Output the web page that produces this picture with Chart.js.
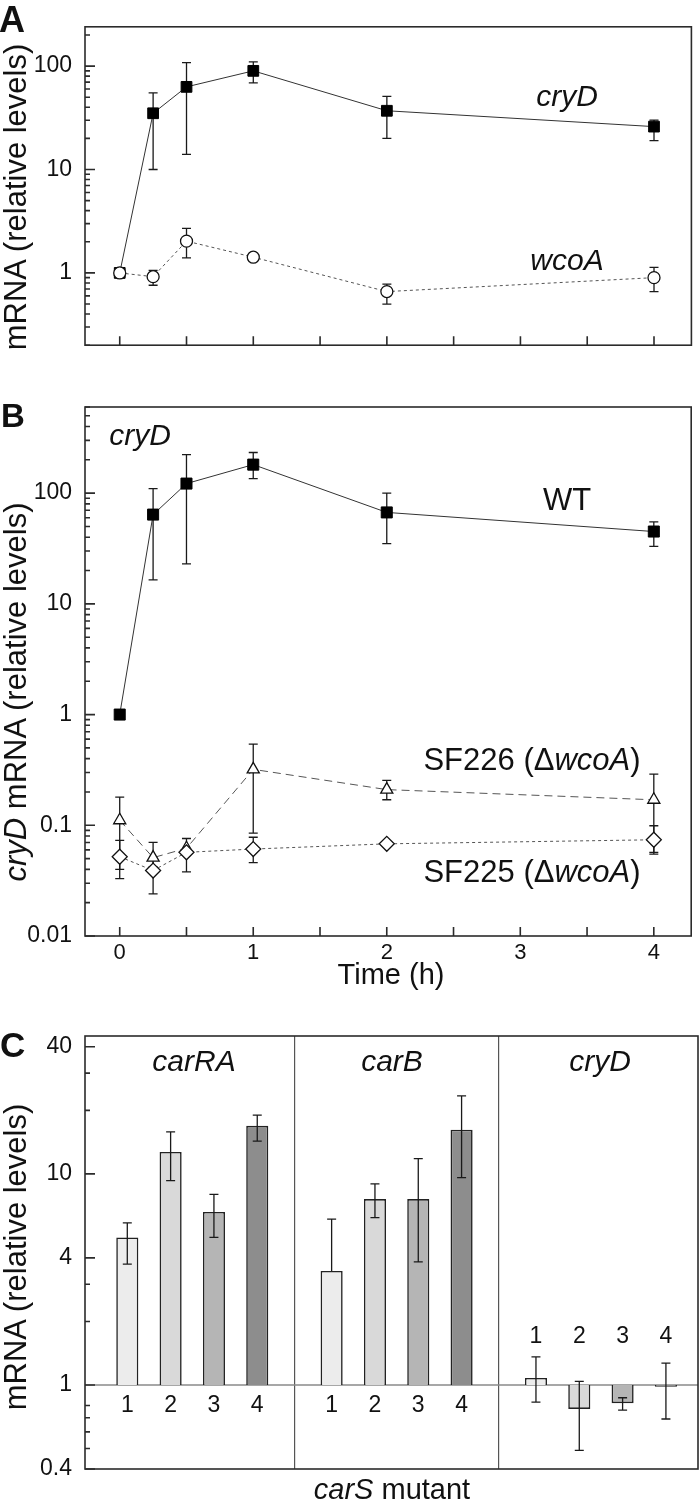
<!DOCTYPE html>
<html><head><meta charset="utf-8">
<script src="https://cdn.jsdelivr.net/npm/chart.js@4.4.1/dist/chart.umd.min.js"></script>
<style>
body{margin:0;background:#fff;}
#wrap{position:relative;width:700px;height:1504px;overflow:hidden;font-family:"Liberation Sans",Arial,sans-serif;color:#111;}
canvas{position:absolute;left:0;}
.t{position:absolute;white-space:nowrap;line-height:1;}
</style></head><body>
<div id="wrap">
<canvas id="cA" width="700" height="372" style="top:0px"></canvas>
<canvas id="cB" width="700" height="620" style="top:380px"></canvas>
<canvas id="cC" width="700" height="504" style="top:1000px"></canvas>
</div>
<script>
// ---------- Panel A data ----------
const timeA = [0, 0.25, 0.5, 1, 2, 4];
const cryDA = [1, 35, 63, 90, 37, 26];
const cryDA_hi = [null, 55, 108, 110, 51, 30];
const cryDA_lo = [null, 10, 14, 69, 20, 19];
const wcoAA = [1, 0.92, 2.03, 1.42, 0.66, 0.9];
const wcoAA_hi = [null, 1.06, 2.7, null, 0.78, 1.13];
const wcoAA_lo = [null, 0.76, 1.4, null, 0.5, 0.66];
const yTicksA = [1, 10, 100];
const yTickLabelsA = ['1', '10', '100'];

// ---------- Panel B data ----------
const timeB = [0, 0.25, 0.5, 1, 2, 4];
const wtB = [1, 64, 122, 181, 67, 45];
const wtB_hi = [null, 110, 223, 233, 100, 55];
const wtB_lo = [null, 16.5, 23, 135, 35, 33];
const sf226B = [0.111, 0.051, 0.062, 0.32, 0.21, 0.17];
const sf226B_hi = [0.18, 0.07, null, 0.54, 0.255, 0.29];
const sf226B_lo = [0.04, 0.042, null, 0.085, 0.17, 0.055];
const sf225B = [0.052, 0.039, 0.057, 0.061, 0.068, 0.074];
const sf225B_hi = [0.073, 0.05, 0.076, 0.078, null, 0.099];
const sf225B_lo = [0.033, 0.024, 0.038, 0.046, null, 0.057];
const yTicksB = [0.01, 0.1, 1, 10, 100];
const yTickLabelsB = ['0.01', '0.1', '1', '10', '100'];
const xTicksB = [0, 1, 2, 3, 4];
const xTickLabelsB = ['0', '1', '2', '3', '4'];
const xMinorTicks = [0, 0.5, 1, 1.5, 2, 2.5, 3, 3.5, 4];

// ---------- Panel C data ----------
const groupsC = ['carRA', 'carB', 'cryD'];
const mutantsC = ['1', '2', '3', '4'];
const carRAC = [5.0, 12.7, 6.6, 16.9];
const carRAC_hi = [5.86, 15.8, 8.0, 19.0];
const carRAC_lo = [3.74, 9.3, 5.0, 14.3];
const carBC = [3.47, 7.6, 7.6, 16.2];
const carBC_hi = [6.1, 8.97, 11.8, 23.4];
const carBC_lo = [null, 6.2, 3.83, 9.6];
const cryDC = [1.08, 0.77, 0.82, 0.98];
const cryDC_hi = [1.36, 1.04, 0.87, 1.27];
const cryDC_lo = [0.83, 0.49, 0.76, 0.69];
const yTicksC = [0.4, 1, 4, 10, 40];
const yTickLabelsC = ['0.4', '1', '4', '10', '40'];
const yMinorC = [0.5, 0.6, 0.7, 0.8, 2, 3, 20, 30];

// minor log ticks 2..9 per decade
function logMinors(lo, hi) {
  const out = [];
  for (let e = -3; e <= 3; e++) {
    for (let k = 2; k <= 9; k++) {
      const v = k * Math.pow(10, e);
      if (v >= lo && v <= hi) out.push(+v.toPrecision(3));
    }
  }
  return out;
}

const FONT = '"Liberation Sans", Arial, sans-serif';

function drawErr(chart, list) {
  const ctx = chart.ctx, ys = chart.scales.y;
  ctx.save();
  ctx.strokeStyle = '#1a1a1a'; ctx.lineWidth = 1.3; ctx.setLineDash([]);
  list.forEach(e => {
    const meta = chart.getDatasetMeta(e.ds);
    e.val.forEach((v, i) => {
      const h = e.hi[i], l = e.lo[i];
      if (h == null && l == null) return;
      const x = meta.data[i].x;
      const y1 = ys.getPixelForValue(h == null ? v : h);
      const y2 = ys.getPixelForValue(l == null ? v : l);
      ctx.beginPath();
      ctx.moveTo(x, y1); ctx.lineTo(x, y2);
      if (h != null) { ctx.moveTo(x - 4.5, y1); ctx.lineTo(x + 4.5, y1); }
      if (l != null) { ctx.moveTo(x - 4.5, y2); ctx.lineTo(x + 4.5, y2); }
      ctx.stroke();
    });
  });
  ctx.restore();
}

function framePlugin(id, cfg) {
  return {
    id: id,
    beforeDatasetsDraw(chart) {
      const ctx = chart.ctx, ca = chart.chartArea, ys = chart.scales.y;
      if (cfg.refLine != null) {
        const p = ys.getPixelForValue(cfg.refLine);
        ctx.save(); ctx.strokeStyle = '#8a8a8a'; ctx.lineWidth = 1.3;
        ctx.beginPath(); ctx.moveTo(ca.left, p); ctx.lineTo(ca.right, p); ctx.stroke();
        ctx.restore();
      }
      if (cfg.errLayer === 'before') drawErr(chart, cfg.err);
    },
    afterDatasetsDraw(chart) {
      if (cfg.errLayer === 'after') drawErr(chart, cfg.err);
      if (cfg.after) cfg.after(chart);
    },
    afterDraw(chart) {
      const ctx = chart.ctx, ca = chart.chartArea, ys = chart.scales.y, xs = chart.scales.x;
      ctx.save();
      ctx.strokeStyle = '#2b2b2b'; ctx.lineWidth = 1.6; ctx.setLineDash([]);
      ctx.strokeRect(ca.left, ca.top, ca.right - ca.left, ca.bottom - ca.top);
      ctx.beginPath();
      cfg.yMajor.forEach(v => { const p = ys.getPixelForValue(v); ctx.moveTo(ca.left, p); ctx.lineTo(ca.left + 10, p); });
      cfg.yMinor.forEach(v => { const p = ys.getPixelForValue(v); ctx.moveTo(ca.left, p); ctx.lineTo(ca.left + 5, p); });
      (cfg.xTicks || []).forEach(v => { const p = xs.getPixelForValue(v); ctx.moveTo(p, ca.bottom); ctx.lineTo(p, ca.bottom - 9); });
      ctx.stroke();
      ctx.restore();
    }
  };
}

function yScale(min, max, ticks, labels) {
  return {
    type: 'logarithmic', min: min, max: max,
    afterFit(s) { s.width = 85; },
    afterBuildTicks(s) { s.ticks = ticks.map(v => ({ value: v })); },
    ticks: {
      autoSkip: false, padding: 13, color: '#111',
      font: { size: 23, family: FONT },
      callback: (v) => { const i = ticks.indexOf(v); return i >= 0 ? labels[i] : ''; }
    },
    grid: { display: false, drawTicks: false },
    border: { display: false }
  };
}

function pts(xs, ys) { return xs.map((x, i) => ({ x: x, y: ys[i] })); }

const common = {
  responsive: false, animation: false, devicePixelRatio: 1, events: [],
  plugins: { legend: { display: false }, tooltip: { enabled: false } }
};

// ---------- Chart A ----------
new Chart(document.getElementById('cA'), {
  type: 'line',
  data: {
    datasets: [
      { data: pts(timeA, wcoAA), borderColor: '#555', borderWidth: 1, borderDash: [3, 3],
        pointStyle: 'circle', pointRadius: 6, pointBackgroundColor: '#fff', pointBorderColor: '#111', pointBorderWidth: 1.3, tension: 0 },
      { data: pts(timeA, cryDA), borderColor: '#333', borderWidth: 1,
        pointStyle: 'rect', pointRadius: 7.6, pointBackgroundColor: '#000', pointBorderColor: '#000', pointBorderWidth: 1, tension: 0 }
    ]
  },
  options: Object.assign({}, common, {
    layout: { padding: { top: 16, right: 3, left: 0, bottom: 0 } },
    scales: {
      x: { type: 'linear', min: -0.26, max: 4.28, afterFit(s) { s.height = 16; },
        ticks: { display: false }, grid: { display: false, drawTicks: false }, border: { display: false } },
      y: yScale(0.2, 240, yTicksA, yTickLabelsA)
    }
  }),
  plugins: [framePlugin('frameA', {
    errLayer: 'before', yMajor: yTicksA, yMinor: logMinors(0.2, 240), xTicks: xMinorTicks,
    err: [{ ds: 0, val: wcoAA, hi: wcoAA_hi, lo: wcoAA_lo }, { ds: 1, val: cryDA, hi: cryDA_hi, lo: cryDA_lo }]
  })]
});

// ---------- Chart B ----------
new Chart(document.getElementById('cB'), {
  type: 'line',
  data: {
    datasets: [
      { data: pts(timeB, sf225B), borderColor: '#555', borderWidth: 1, borderDash: [3, 3],
        pointStyle: 'rectRot', pointRadius: 7.5, pointBackgroundColor: '#fff', pointBorderColor: '#111', pointBorderWidth: 1.3, tension: 0 },
      { data: pts(timeB, sf226B), borderColor: '#555', borderWidth: 1, borderDash: [8, 5],
        pointStyle: 'triangle', pointRadius: 7, pointBackgroundColor: '#fff', pointBorderColor: '#111', pointBorderWidth: 1.3, tension: 0 },
      { data: pts(timeB, wtB), borderColor: '#333', borderWidth: 1,
        pointStyle: 'rect', pointRadius: 7.8, pointBackgroundColor: '#000', pointBorderColor: '#000', pointBorderWidth: 1, tension: 0 }
    ]
  },
  options: Object.assign({}, common, {
    layout: { padding: { top: 27, right: 3, left: 0, bottom: 0 } },
    scales: {
      x: { type: 'linear', min: -0.26, max: 4.28, afterFit(s) { s.height = 64; },
        afterBuildTicks(s) { s.ticks = xTicksB.map(v => ({ value: v })); },
        ticks: { autoSkip: false, padding: 4, color: '#111', maxRotation: 0, font: { size: 22, family: FONT },
          callback: (v) => { const i = xTicksB.indexOf(v); return i >= 0 ? xTickLabelsB[i] : ''; } },
        grid: { display: false, drawTicks: false }, border: { display: false } },
      y: yScale(0.01, 600, yTicksB, yTickLabelsB)
    }
  }),
  plugins: [framePlugin('frameB', {
    errLayer: 'before', yMajor: yTicksB, yMinor: logMinors(0.01, 600), xTicks: xMinorTicks,
    err: [{ ds: 0, val: sf225B, hi: sf225B_hi, lo: sf225B_lo },
          { ds: 1, val: sf226B, hi: sf226B_hi, lo: sf226B_lo },
          { ds: 2, val: wtB, hi: wtB_hi, lo: wtB_lo }]
  })]
});

// ---------- Chart C ----------
const byGroup = [carRAC, carBC, cryDC];
const byGroupHi = [carRAC_hi, carBC_hi, cryDC_hi];
const byGroupLo = [carRAC_lo, carBC_lo, cryDC_lo];
const barColors = ['#ececec', '#d9d9d9', '#b5b5b5', '#8d8d8d'];
const numbersAbove = [false, false, true];

const datasetsC = mutantsC.map((m, mi) => ({
  label: m,
  data: groupsC.map((g, gi) => ({ x: gi, y: byGroup[gi][mi] })),
  base: 1,
  backgroundColor: barColors[mi], borderColor: '#222', borderWidth: 1.6,
  categoryPercentage: 0.848, barPercentage: 0.51
}));
const errC = mutantsC.map((m, mi) => ({
  ds: mi, val: byGroup.map(g => g[mi]), hi: byGroupHi.map(g => g[mi]), lo: byGroupLo.map(g => g[mi])
}));

new Chart(document.getElementById('cC'), {
  type: 'bar',
  data: { datasets: datasetsC },
  options: Object.assign({}, common, {
    layout: { padding: { top: 36, right: 2, left: 0, bottom: 0 } },
    scales: {
      x: { type: 'linear', min: -0.525, max: 2.475, offset: false, afterFit(s) { s.height = 35; },
        afterBuildTicks(s) { s.ticks = [0.5, 1.5].map(v => ({ value: v })); },
        ticks: { display: false },
        grid: { display: true, offset: false, color: '#555', lineWidth: 1.2, drawTicks: false },
        border: { display: false } },
      y: yScale(0.4, 45, yTicksC, yTickLabelsC)
    }
  }),
  plugins: [framePlugin('frameC', {
    refLine: 1, errLayer: 'after', yMajor: yTicksC, yMinor: yMinorC, err: errC,
    after(chart) {
      const ctx = chart.ctx, ys = chart.scales.y, base = ys.getPixelForValue(1);
      ctx.save();
      ctx.font = '23px ' + FONT; ctx.fillStyle = '#111'; ctx.textAlign = 'center'; ctx.textBaseline = 'alphabetic';
      mutantsC.forEach((lab, mi) => {
        const meta = chart.getDatasetMeta(mi);
        groupsC.forEach((g, gi) => {
          const x = meta.data[gi].x;
          ctx.fillText(lab, x, numbersAbove[gi] ? base - 42 : base + 27);
        });
      });
      ctx.restore();
    }
  })]
});

// ---------- HTML text labels ----------
const wrap = document.getElementById('wrap');
function addText(html, x, baseline, size, o) {
  o = o || {};
  const d = document.createElement('div');
  d.className = 't';
  d.innerHTML = html;
  d.style.fontSize = size + 'px';
  if (o.bold) d.style.fontWeight = 'bold';
  if (o.italic) d.style.fontStyle = 'italic';
  if (o.rot) {
    const cx = x - 0.3465 * size;
    d.style.left = cx + 'px';
    d.style.top = baseline + 'px';
    d.style.transform = 'translate(-50%,-50%) rotate(-90deg)';
  } else {
    d.style.top = (baseline - 0.8465 * size) + 'px';
    d.style.left = x + 'px';
    if (o.align !== 'left') d.style.transform = 'translateX(-50%)';
  }
  wrap.appendChild(d);
}
addText('A', -1, 32, 36, { bold: true, align: 'left' });
addText('B', 1, 427, 33, { bold: true, align: 'left' });
addText('C', 0, 1057, 35, { bold: true, align: 'left' });

addText('mRNA (relative levels)', 26, 197, 31, { rot: true });
addText('<i>cryD</i> mRNA (relative levels)', 26, 692, 31, { rot: true });
addText('mRNA (relative levels)', 26, 1257, 31, { rot: true });

addText('cryD', 567, 106, 30, { italic: true });
addText('wcoA', 567, 270, 30, { italic: true });
addText('cryD', 140, 445, 30, { italic: true });
addText('WT', 567, 510, 31);
addText('SF226 (Δ<i>wcoA</i>)', 532, 770, 31);
addText('SF225 (Δ<i>wcoA</i>)', 532, 882, 31);
addText('Time (h)', 391, 985, 29);

addText('carRA', 194, 1071, 30, { italic: true });
addText('carB', 392, 1071, 30, { italic: true });
addText('cryD', 600, 1071, 30, { italic: true });
addText('<i>carS</i> mutant', 392, 1500, 29);
</script>
</body></html>
